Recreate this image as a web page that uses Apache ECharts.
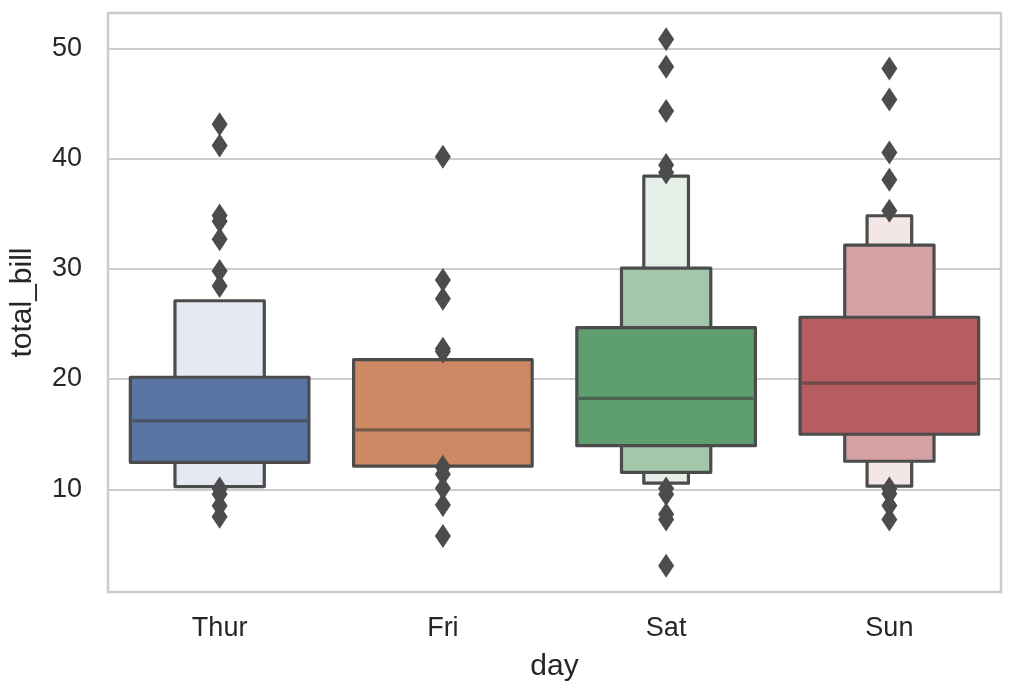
<!DOCTYPE html>
<html>
<head>
<meta charset="utf-8">
<script src="https://cdn.jsdelivr.net/npm/echarts@6/dist/echarts.min.js"></script>
<style>
  html, body { margin: 0; padding: 0; background: #fff; }
  #main { width: 1014px; height: 694px; }
</style>
</head>
<body>
<div id="main"></div>
<script>
// tips data, letter-value (boxen) plot of total_bill by day
var days = ['Thur', 'Fri', 'Sat', 'Sun'];
var yTicks = [10, 20, 30, 40, 50];

var medians = [16.2, 15.38, 18.24, 19.63];
// level 1 = quartiles, level 2 = octiles, level 3 = sixteenths (null = no such level)
var lvl1Low  = [12.44, 12.10, 13.95, 14.99];
var lvl1High = [20.16, 21.75, 24.66, 25.60];
var lvl2Low  = [10.24, null, 11.54, 12.54];
var lvl2High = [27.10, null, 30.05, 32.15];
var lvl3Low  = [null, null, 10.55, 10.28];
var lvl3High = [null, null, 38.41, 34.81];

var outThur = [43.11, 41.19, 34.83, 34.30, 32.68, 29.80, 28.44, 10.07, 9.55, 8.51, 7.51];
var outFri  = [40.17, 28.97, 27.28, 22.75, 22.49, 12.03, 11.35, 10.09, 8.58, 5.75];
var outSat  = [50.81, 48.33, 44.30, 39.42, 38.73, 10.07, 9.55, 7.74, 7.25, 3.07];
var outSun  = [48.17, 45.35, 40.55, 38.07, 35.26, 10.07, 9.60, 8.52, 7.25];

// styling
var edge = '#4c4c4c';
var dayColors = [
    ['#5975a4', '#e5e9f1'],
    ['#cc8963'],
    ['#5f9e6e', '#a4c6ab', '#e6f0e9'],
    ['#b55d60', '#d4a2a3', '#f3e6e6']
];
var widthFrac = [0.8, 0.4, 0.2];

var boxes = [];
[[lvl3Low, lvl3High, 2], [lvl2Low, lvl2High, 1], [lvl1Low, lvl1High, 0]].forEach(function (l) {
    days.forEach(function (d, i) {
        if (l[0][i] != null) boxes.push([i, l[0][i], l[1][i], l[2]]);
    });
});

var fliers = [];
[outThur, outFri, outSat, outSun].forEach(function (arr, i) {
    arr.forEach(function (v) { fliers.push([i, v]); });
});

var medianData = medians.map(function (m, i) { return [i, m]; });

var myChart = echarts.init(document.getElementById('main'));
var option = {
    animation: false,
    backgroundColor: '#fff',
    textStyle: { fontFamily: 'Liberation Sans, Arial, sans-serif' },
    grid: {
        left: 108, right: 13, top: 13, bottom: 102,
        show: true, borderColor: '#cccccc', borderWidth: 2.5
    },
    xAxis: {
        type: 'category',
        data: days,
        name: 'day',
        nameLocation: 'middle',
        nameGap: 60,
        nameTextStyle: { fontSize: 30, color: '#262626' },
        axisLine: { show: false },
        axisTick: { show: false },
        axisLabel: { fontSize: 27, color: '#262626', margin: 23 },
        splitLine: { show: false }
    },
    yAxis: {
        type: 'value',
        min: 0.68,
        max: 53.2,
        name: 'total_bill',
        nameLocation: 'middle',
        nameGap: 70,
        nameTextStyle: { fontSize: 30, color: '#262626' },
        axisLine: { show: false },
        axisTick: { show: false, customValues: yTicks },
        axisLabel: { fontSize: 27, color: '#262626', margin: 26, customValues: yTicks },
        splitLine: { show: true, lineStyle: { color: '#cccccc', width: 1.8 } }
    },
    series: [
        {
            type: 'scatter',
            data: fliers,
            symbol: 'diamond',
            symbolSize: [16, 24],
            itemStyle: { color: edge, opacity: 1 },
            silent: true
        },
        {
            type: 'custom',
            data: boxes,
            renderItem: function (params, api) {
                var i = api.value(0), lo = api.value(1), hi = api.value(2), lvl = api.value(3);
                var top = api.coord([i, hi]);
                var bot = api.coord([i, lo]);
                var bw = api.size([1, 0])[0] * widthFrac[lvl];
                return {
                    type: 'rect',
                    shape: { x: top[0] - bw / 2, y: top[1], width: bw, height: bot[1] - top[1] },
                    style: { fill: dayColors[i][lvl], stroke: edge, lineWidth: 3.2, lineJoin: 'round' }
                };
            },
            silent: true
        },
        {
            type: 'custom',
            data: medianData,
            renderItem: function (params, api) {
                var i = api.value(0);
                var p = api.coord([i, api.value(1)]);
                var bw = api.size([1, 0])[0] * widthFrac[0];
                return {
                    type: 'line',
                    shape: { x1: p[0] - bw / 2 + 2, y1: p[1], x2: p[0] + bw / 2 - 2, y2: p[1] },
                    style: { stroke: 'rgba(60,60,60,0.6)', lineWidth: 3.2 }
                };
            },
            silent: true
        }
    ]
};
myChart.setOption(option);
</script>
</body>
</html>
